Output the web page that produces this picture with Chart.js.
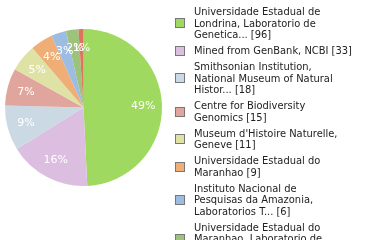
<!DOCTYPE html>
<html>
<head>
<meta charset="utf-8">
<script src="https://cdn.jsdelivr.net/npm/chart.js@4"></script>
<style>
  html, body { margin: 0; padding: 0; background: #fff; }
  #wrap { position: relative; width: 380px; height: 240px; overflow: hidden; }
  #legend { position: absolute; left: 175px; top: 6px; width: 205px;
            font: 11px "DejaVu Sans Condensed", "DejaVu Sans", sans-serif; color: #222; }
  .item { display: flex; align-items: center; margin-bottom: 4.5px; }
  .box { width: 8px; height: 8px; border: 1px solid #777; margin-right: 9px; flex: none; }
  .txt { line-height: 11.5px; }
</style>
</head>
<body>
<div id="wrap">
  <canvas id="myChart" width="380" height="240"></canvas>
  <div id="legend"></div>
</div>
<script>
// Sources of the records, with line breaks as in the legend
const categories = [
    ['Universidade Estadual de', 'Londrina, Laboratorio de', 'Genetica...'],
    ['Mined from GenBank, NCBI'],
    ['Smithsonian Institution,', 'National Museum of Natural', 'Histor...'],
    ['Centre for Biodiversity', 'Genomics'],
    ['Museum d\'Histoire Naturelle,', 'Geneve'],
    ['Universidade Estadual do', 'Maranhao'],
    ['Instituto Nacional de', 'Pesquisas da Amazonia,', 'Laboratorios T...'],
    ['Universidade Estadual do', 'Maranhao, Laboratorio de', 'Genetica...'],
    ['Universidade Federal do', 'Para...']
];
const counts = [96, 33, 18, 15, 11, 9, 6, 5, 2];
const colors = ['#a0d95f', '#dcbee0', '#cbd9e4', '#e0a69e', '#dee3a5',
                '#efae75', '#9dbce2', '#9dc27b', '#df735f'];

const total = counts.reduce((a, b) => a + b, 0);

// percentage labels inside the slices
const sliceLabels = {
    id: 'sliceLabels',
    afterDatasetsDraw(chart) {
        const ctx = chart.ctx;
        const meta = chart.getDatasetMeta(0);
        ctx.save();
        ctx.fillStyle = '#fff';
        ctx.font = '11px "DejaVu Sans", sans-serif';
        ctx.textAlign = 'center';
        ctx.textBaseline = 'middle';
        meta.data.forEach((arc, i) => {
            const pct = Math.floor(counts[i] / total * 100);
            const mid = (arc.startAngle + arc.endAngle) / 2;
            const r = arc.outerRadius * 0.76;
            ctx.fillText(pct + '%', arc.x + Math.cos(mid) * r, arc.y + Math.sin(mid) * r);
        });
        ctx.restore();
    }
};

const ctx = document.getElementById('myChart').getContext('2d');
new Chart(ctx, {
    type: 'pie',
    data: {
        labels: categories.map(l => l.join(' ')),
        datasets: [{
            data: counts,
            backgroundColor: colors,
            borderWidth: 0
        }]
    },
    options: {
        responsive: false,
        animation: false,
        layout: { padding: { left: 5, right: 218, top: 29, bottom: 54 } },
        plugins: {
            legend: { display: false },
            tooltip: { enabled: false }
        }
    },
    plugins: [sliceLabels]
});

// legend on the right
const legend = document.getElementById('legend');
categories.forEach((lines, i) => {
    const item = document.createElement('div');
    item.className = 'item';
    const box = document.createElement('div');
    box.className = 'box';
    box.style.background = colors[i];
    const txt = document.createElement('div');
    txt.className = 'txt';
    txt.innerHTML = lines.slice(0, -1).map(s => s + '<br>').join('') +
        lines[lines.length - 1] + ' [' + counts[i] + ']';
    item.appendChild(box);
    item.appendChild(txt);
    legend.appendChild(item);
});
</script>
</body>
</html>
